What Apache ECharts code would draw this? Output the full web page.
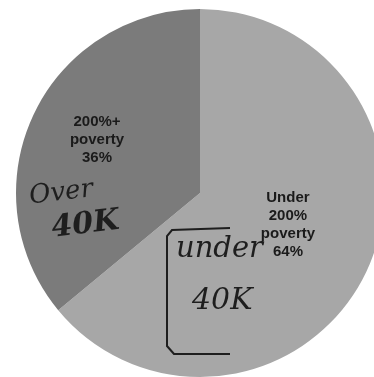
<!DOCTYPE html>
<html>
<head>
<meta charset="utf-8">
<script src="https://cdn.jsdelivr.net/npm/echarts@6/dist/echarts.min.js"></script>
<style>
  html, body { margin: 0; padding: 0; background: #ffffff; }
  #chart { width: 374px; height: 377px; }
</style>
</head>
<body>
<div id="chart"></div>
<script>
// Share of households by income relative to the poverty line
const categories = ['Under\n200%\npoverty', '200%+\npoverty'];
const shares = [64, 36];
const sliceColors = ['#a7a7a7', '#7b7b7b'];
// Nudges for the inside labels (px)
const labelShift = [[2, -9], [-17, -13]];

const chart = echarts.init(document.getElementById('chart'), null, { renderer: 'canvas' });

const hand = {
  fill: '#1e1e1e',
  fontFamily: '"DejaVu Serif", serif',
  fontStyle: 'italic'
};

chart.setOption({
  backgroundColor: '#ffffff',
  animation: false,
  series: [{
    type: 'pie',
    center: [200, 193],
    radius: [0, 184],
    startAngle: 90,
    clockwise: true,
    silent: true,
    itemStyle: { borderWidth: 0 },
    label: {
      show: true,
      position: 'inside',
      formatter: p => p.name + '\n' + p.value + '%',
      fontFamily: '"Liberation Sans", Arial, sans-serif',
      fontWeight: 'bold',
      fontSize: 15,
      lineHeight: 18,
      color: '#1a1a1a',
      align: 'center'
    },
    labelLayout: p => ({ dx: labelShift[p.dataIndex][0], dy: labelShift[p.dataIndex][1] }),
    data: categories.map((c, i) => ({
      name: c,
      value: shares[i],
      itemStyle: { color: sliceColors[i] }
    }))
  }],
  graphic: [
    // handwritten notes
    { type: 'text', z: 100, x: 28, y: 184, rotation: 0.12,
      style: Object.assign({ text: 'Over', fontSize: 26 }, hand) },
    { type: 'text', z: 100, x: 50, y: 214, rotation: 0.12,
      style: Object.assign({ text: '40K', fontSize: 30, fontWeight: 'bold' }, hand) },
    { type: 'text', z: 100, x: 176, y: 235,
      style: Object.assign({ text: 'under', fontSize: 29 }, hand) },
    { type: 'text', z: 100, x: 192, y: 286,
      style: Object.assign({ text: '40K', fontSize: 30 }, hand) },
    { type: 'polyline', z: 100,
      shape: { points: [[230, 228], [172, 230], [167, 236], [167, 346], [174, 354], [230, 354]] },
      style: { stroke: '#1e1e1e', lineWidth: 2, fill: null } }
  ]
});
</script>
</body>
</html>
